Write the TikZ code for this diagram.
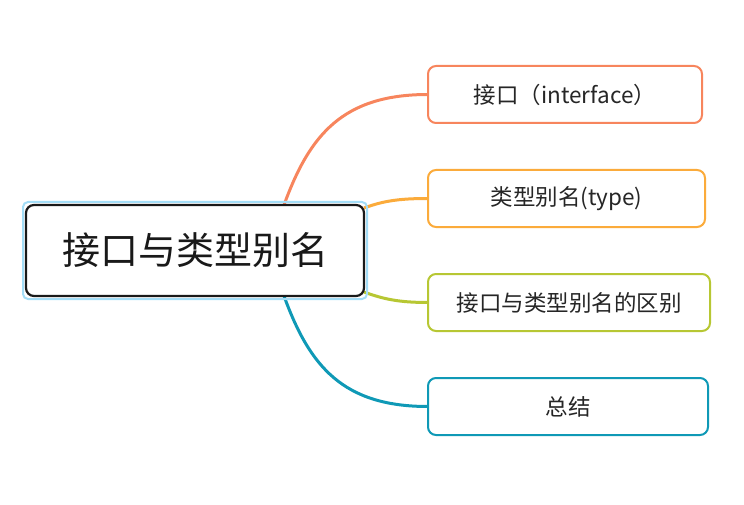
\documentclass[tikz,border=0pt]{standalone}
\usepackage{fontspec}
\setmainfont{Noto Sans CJK SC}
\usetikzlibrary{positioning,fit,backgrounds}
\definecolor{mmOrange}{HTML}{F7855D}
\definecolor{mmAmber}{HTML}{FBAB3B}
\definecolor{mmLime}{HTML}{B7C733}
\definecolor{mmTeal}{HTML}{0F99B6}
\definecolor{mmSelect}{HTML}{A3DDF7}
\tikzset{
  topic/.style={rectangle, rounded corners=8pt, draw=black!90, line width=2.2pt, fill=white, minimum width=338pt, minimum height=91pt, inner sep=0pt, outer sep=0pt, text=black!90, font=\fontsize{38}{46}\selectfont},
  select/.style={rectangle, rounded corners=5pt, draw=mmSelect, line width=2pt, inner sep=3pt},
  branch/.style={rectangle, rounded corners=8pt, line width=2pt, fill=white, minimum height=57pt, inner sep=0pt, outer sep=0pt, text=black!85, font=\fontsize{22.5}{27}\selectfont},
  connect/.style={line width=3pt}
}
\begin{document}
\begin{tikzpicture}[x=1pt,y=1pt]
    \useasboundingbox (0,0) rectangle (744,-505);
    \node[topic] (Root) at (195,-250.5) {接口与类型别名};
    \node[select, fit=(Root)] (Sel) {};
    \node[branch, draw=mmOrange, minimum width=274pt] (B1) [above right=82pt and 64pt of Root.north east] {接口（interface）};
    \node[branch, draw=mmAmber, minimum width=277pt] (B2) [below=47pt of B1.south west, anchor=north west] {类型别名(type)};
    \node[branch, draw=mmLime, minimum width=282pt] (B3) [below=47pt of B2.south west, anchor=north west] {接口与类型别名的区别};
    \node[branch, draw=mmTeal, minimum width=280pt] (B4) [below=47pt of B3.south west, anchor=north west] {总结};

    \coordinate (T1) at ([xshift=-80pt]Root.north east);
    \coordinate (T2) at ([yshift=-3pt]Root.north east);
    \coordinate (T3) at ([yshift=4pt]Root.south east);
    \coordinate (T4) at ([xshift=-80pt]Root.south east);

    \begin{scope}[on background layer]
      \draw [connect, mmOrange] (T1) .. controls +(70:75) and +(-85,0) .. (B1.west);
      \draw [connect, mmAmber] (T2) .. controls +(20:20) and +(-30,0) .. (B2.west);
      \draw [connect, mmLime] (T3) .. controls +(-20:20) and +(-30,0) .. (B3.west);
      \draw [connect, mmTeal] (T4) .. controls +(-70:75) and +(-85,0) .. (B4.west);
    \end{scope}
\end{tikzpicture}
\end{document}
